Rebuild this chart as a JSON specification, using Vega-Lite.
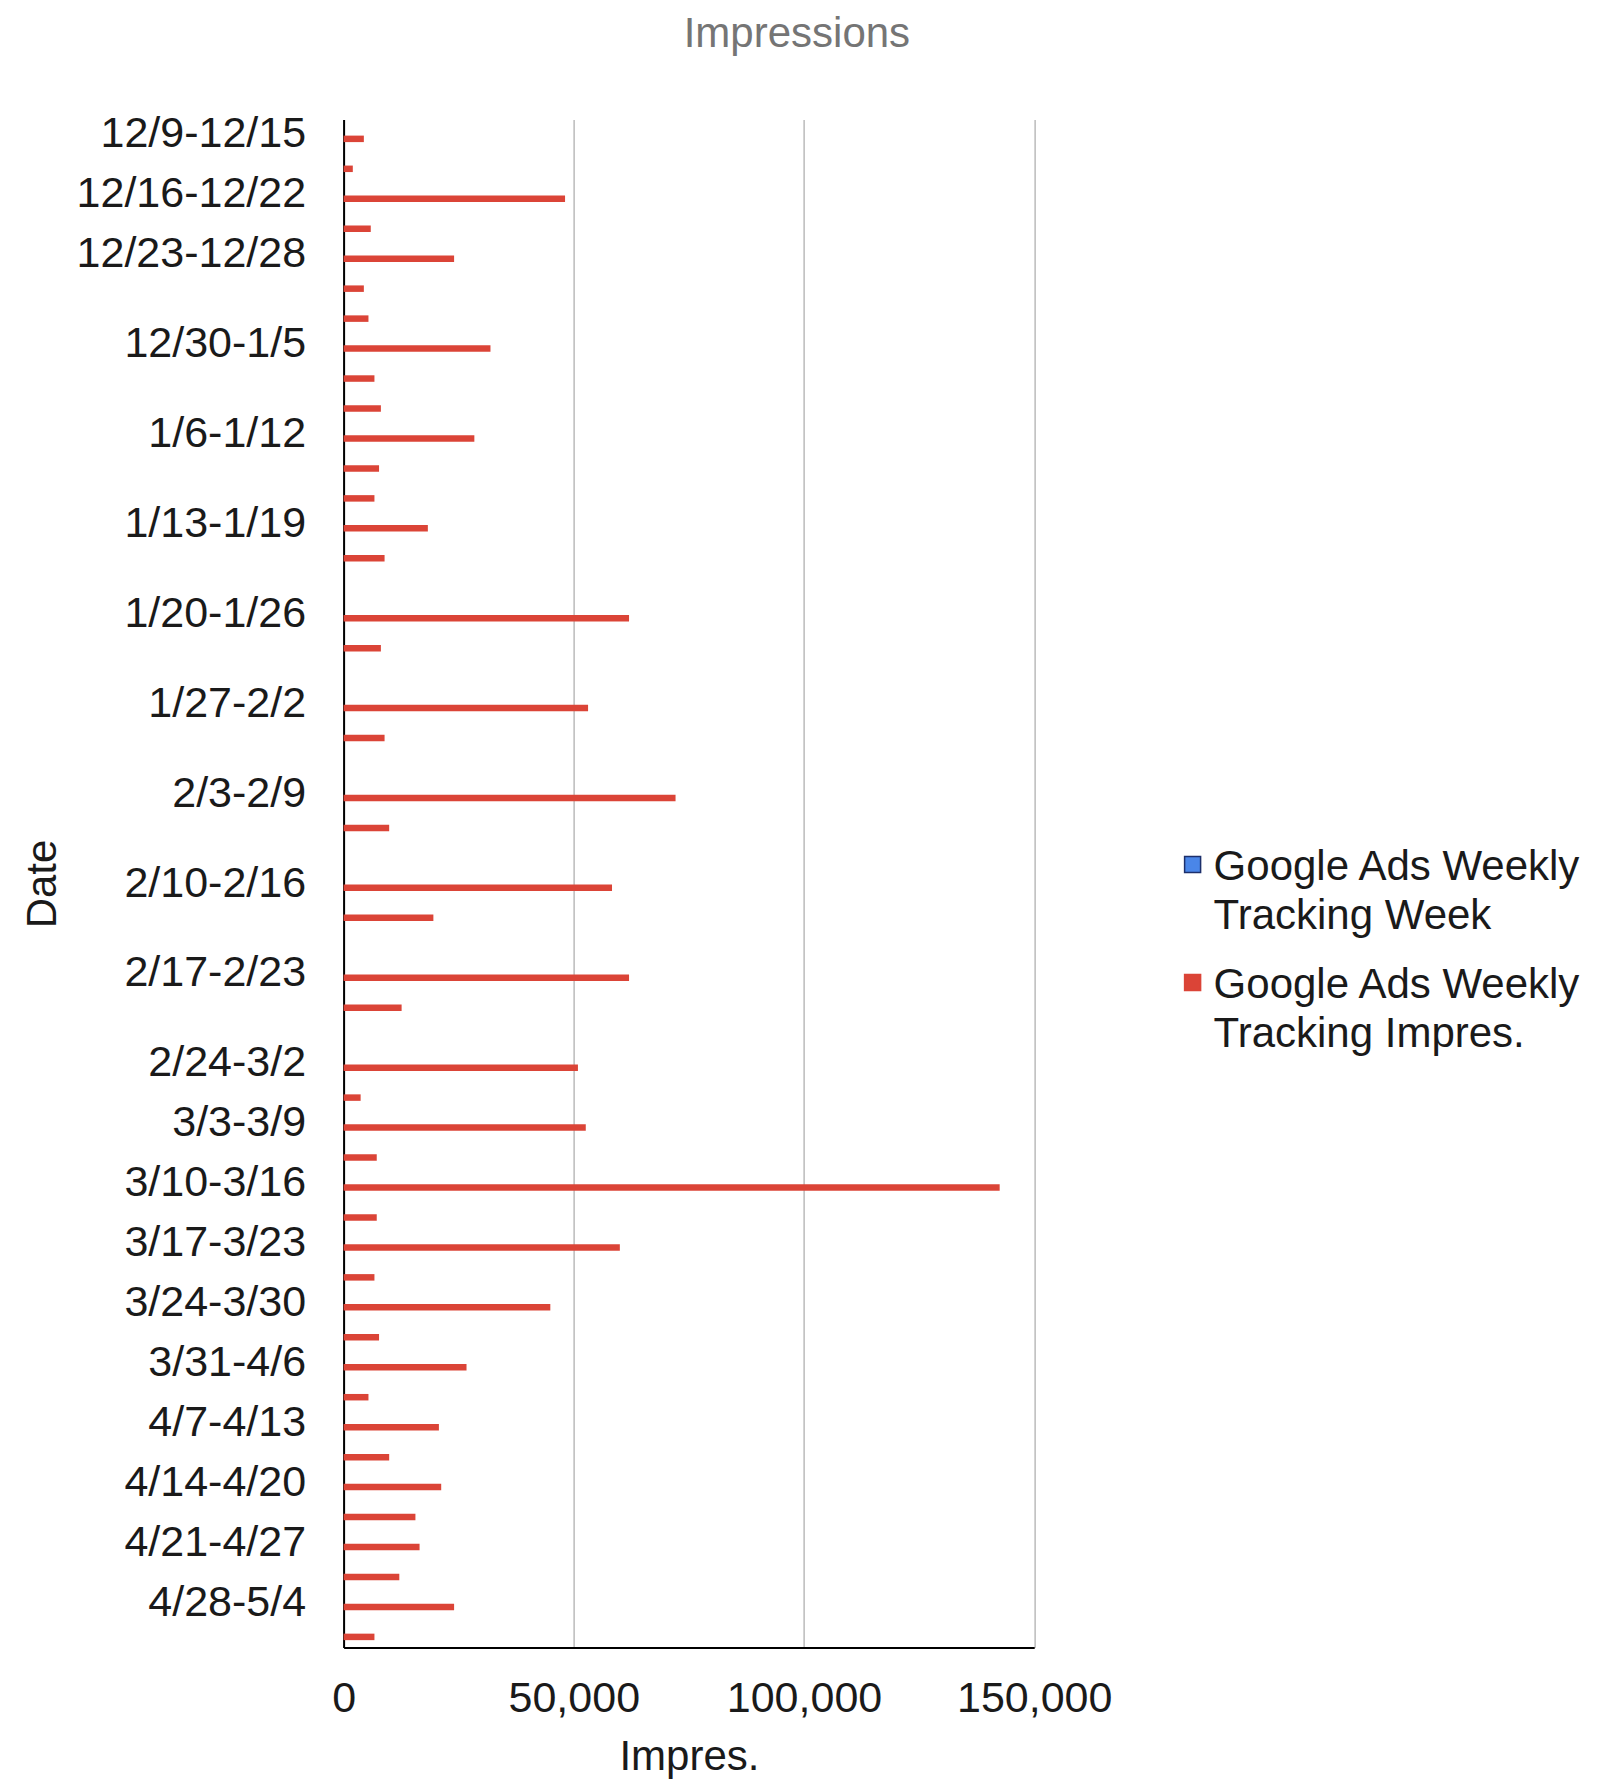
{
  "$schema": "https://vega.github.io/schema/vega-lite/v6.json",
  "autosize": {"type": "none"},
  "width": 690.6,
  "height": 1528,
  "padding": {"left": 343.6, "top": 119.5, "right": 568.8, "bottom": 136.5},
  "background": "white",
  "title": {"text": "Impressions", "color": "#757575", "fontSize": 42, "font": "Liberation Sans", "fontWeight": "normal", "anchor": "middle", "dx": 108, "offset": 57},
  "data": {"values": [
    {"row": "00|12/9-12/15", "series": "Google Ads Weekly Tracking Impres.", "impressions": 4400},
    {"row": "01|", "series": "Google Ads Weekly Tracking Impres.", "impressions": 2000},
    {"row": "02|12/16-12/22", "series": "Google Ads Weekly Tracking Impres.", "impressions": 48100},
    {"row": "03|", "series": "Google Ads Weekly Tracking Impres.", "impressions": 5900},
    {"row": "04|12/23-12/28", "series": "Google Ads Weekly Tracking Impres.", "impressions": 24000},
    {"row": "05|", "series": "Google Ads Weekly Tracking Impres.", "impressions": 4400},
    {"row": "06|", "series": "Google Ads Weekly Tracking Impres.", "impressions": 5400},
    {"row": "07|12/30-1/5", "series": "Google Ads Weekly Tracking Impres.", "impressions": 31900},
    {"row": "08|", "series": "Google Ads Weekly Tracking Impres.", "impressions": 6700},
    {"row": "09|", "series": "Google Ads Weekly Tracking Impres.", "impressions": 8100},
    {"row": "10|1/6-1/12", "series": "Google Ads Weekly Tracking Impres.", "impressions": 28400},
    {"row": "11|", "series": "Google Ads Weekly Tracking Impres.", "impressions": 7700},
    {"row": "12|", "series": "Google Ads Weekly Tracking Impres.", "impressions": 6700},
    {"row": "13|1/13-1/19", "series": "Google Ads Weekly Tracking Impres.", "impressions": 18300},
    {"row": "14|", "series": "Google Ads Weekly Tracking Impres.", "impressions": 8900},
    {"row": "15|", "series": "Google Ads Weekly Tracking Impres.", "impressions": 0},
    {"row": "16|1/20-1/26", "series": "Google Ads Weekly Tracking Impres.", "impressions": 62000},
    {"row": "17|", "series": "Google Ads Weekly Tracking Impres.", "impressions": 8100},
    {"row": "18|", "series": "Google Ads Weekly Tracking Impres.", "impressions": 0},
    {"row": "19|1/27-2/2", "series": "Google Ads Weekly Tracking Impres.", "impressions": 53100},
    {"row": "20|", "series": "Google Ads Weekly Tracking Impres.", "impressions": 8900},
    {"row": "21|", "series": "Google Ads Weekly Tracking Impres.", "impressions": 0},
    {"row": "22|2/3-2/9", "series": "Google Ads Weekly Tracking Impres.", "impressions": 72100},
    {"row": "23|", "series": "Google Ads Weekly Tracking Impres.", "impressions": 9900},
    {"row": "24|", "series": "Google Ads Weekly Tracking Impres.", "impressions": 0},
    {"row": "25|2/10-2/16", "series": "Google Ads Weekly Tracking Impres.", "impressions": 58300},
    {"row": "26|", "series": "Google Ads Weekly Tracking Impres.", "impressions": 19500},
    {"row": "27|", "series": "Google Ads Weekly Tracking Impres.", "impressions": 0},
    {"row": "28|2/17-2/23", "series": "Google Ads Weekly Tracking Impres.", "impressions": 62000},
    {"row": "29|", "series": "Google Ads Weekly Tracking Impres.", "impressions": 12600},
    {"row": "30|", "series": "Google Ads Weekly Tracking Impres.", "impressions": 0},
    {"row": "31|2/24-3/2", "series": "Google Ads Weekly Tracking Impres.", "impressions": 50900},
    {"row": "32|", "series": "Google Ads Weekly Tracking Impres.", "impressions": 3700},
    {"row": "33|3/3-3/9", "series": "Google Ads Weekly Tracking Impres.", "impressions": 52600},
    {"row": "34|", "series": "Google Ads Weekly Tracking Impres.", "impressions": 7200},
    {"row": "35|3/10-3/16", "series": "Google Ads Weekly Tracking Impres.", "impressions": 142500},
    {"row": "36|", "series": "Google Ads Weekly Tracking Impres.", "impressions": 7200},
    {"row": "37|3/17-3/23", "series": "Google Ads Weekly Tracking Impres.", "impressions": 60000},
    {"row": "38|", "series": "Google Ads Weekly Tracking Impres.", "impressions": 6700},
    {"row": "39|3/24-3/30", "series": "Google Ads Weekly Tracking Impres.", "impressions": 44900},
    {"row": "40|", "series": "Google Ads Weekly Tracking Impres.", "impressions": 7700},
    {"row": "41|3/31-4/6", "series": "Google Ads Weekly Tracking Impres.", "impressions": 26700},
    {"row": "42|", "series": "Google Ads Weekly Tracking Impres.", "impressions": 5400},
    {"row": "43|4/7-4/13", "series": "Google Ads Weekly Tracking Impres.", "impressions": 20700},
    {"row": "44|", "series": "Google Ads Weekly Tracking Impres.", "impressions": 9900},
    {"row": "45|4/14-4/20", "series": "Google Ads Weekly Tracking Impres.", "impressions": 21200},
    {"row": "46|", "series": "Google Ads Weekly Tracking Impres.", "impressions": 15600},
    {"row": "47|4/21-4/27", "series": "Google Ads Weekly Tracking Impres.", "impressions": 16500},
    {"row": "48|", "series": "Google Ads Weekly Tracking Impres.", "impressions": 12100},
    {"row": "49|4/28-5/4", "series": "Google Ads Weekly Tracking Impres.", "impressions": 24000},
    {"row": "50|", "series": "Google Ads Weekly Tracking Impres.", "impressions": 6700}
  ]},
  "mark": {"type": "bar", "color": "#db4437"},
  "encoding": {
    "y": {
      "field": "row", "type": "nominal", "sort": null,
      "scale": {"paddingInner": 0, "paddingOuter": 0},
      "axis": {
        "title": "Date", "grid": false, "ticks": false,
        "domainColor": "#000000", "domainWidth": 2,
        "labelExpr": "split(datum.value, '|')[1]",
        "labelFontSize": 43, "labelColor": "#1a1a1a", "labelPadding": 38,
        "labelOverlap": false, "labelBound": false, "labelLimit": 400,
        "titleFontSize": 42, "titleFontWeight": "normal", "titleColor": "#1a1a1a", "titlePadding": 79
      }
    },
    "yOffset": {
      "field": "series", "type": "nominal",
      "scale": {"domain": ["Google Ads Weekly Tracking Week", "Google Ads Weekly Tracking Impres."], "paddingInner": 0.257, "paddingOuter": 0.841}
    },
    "x": {
      "field": "impressions", "type": "quantitative",
      "scale": {"domain": [0, 150000], "nice": false},
      "axis": {
        "title": "Impres.", "grid": true, "gridColor": "#aaaaaa", "gridWidth": 1.2,
        "ticks": false, "domainColor": "#000000", "domainWidth": 2,
        "values": [0, 50000, 100000, 150000], "format": ",d",
        "labelFontSize": 43, "labelColor": "#1a1a1a", "labelPadding": 30,
        "labelFlush": false, "labelOverlap": false,
        "titleFontSize": 42, "titleFontWeight": "normal", "titleColor": "#1a1a1a", "titlePadding": 16
      }
    },
    "color": {
      "field": "series", "type": "nominal",
      "scale": {"domain": ["Google Ads Weekly Tracking Week", "Google Ads Weekly Tracking Impres."], "range": ["#4a86e8", "#db4437"]},
      "legend": {
        "title": null, "orient": "none", "legendX": 828, "legendY": 724,
        "padding": 0, "symbolType": "square", "symbolSize": 256, "symbolStrokeWidth": 1.5,
        "labelFontSize": 42, "labelColor": "#1a1a1a", "labelLimit": 500, "labelOffset": 0,
        "rowPadding": 25,
        "labelExpr": "[slice(datum.label, 0, 17), slice(datum.label, 18)]",
        "encode": {
          "symbols": {"update": {"stroke": {"signal": "datum.value === 'Google Ads Weekly Tracking Week' ? '#1c2f6b' : '#db4437'"}}},
          "labels": {"update": {"lineHeight": {"value": 49}, "dy": {"value": 2}}}
        }
      }
    }
  },
  "config": {"view": {"stroke": null}, "font": "Liberation Sans"}
}
